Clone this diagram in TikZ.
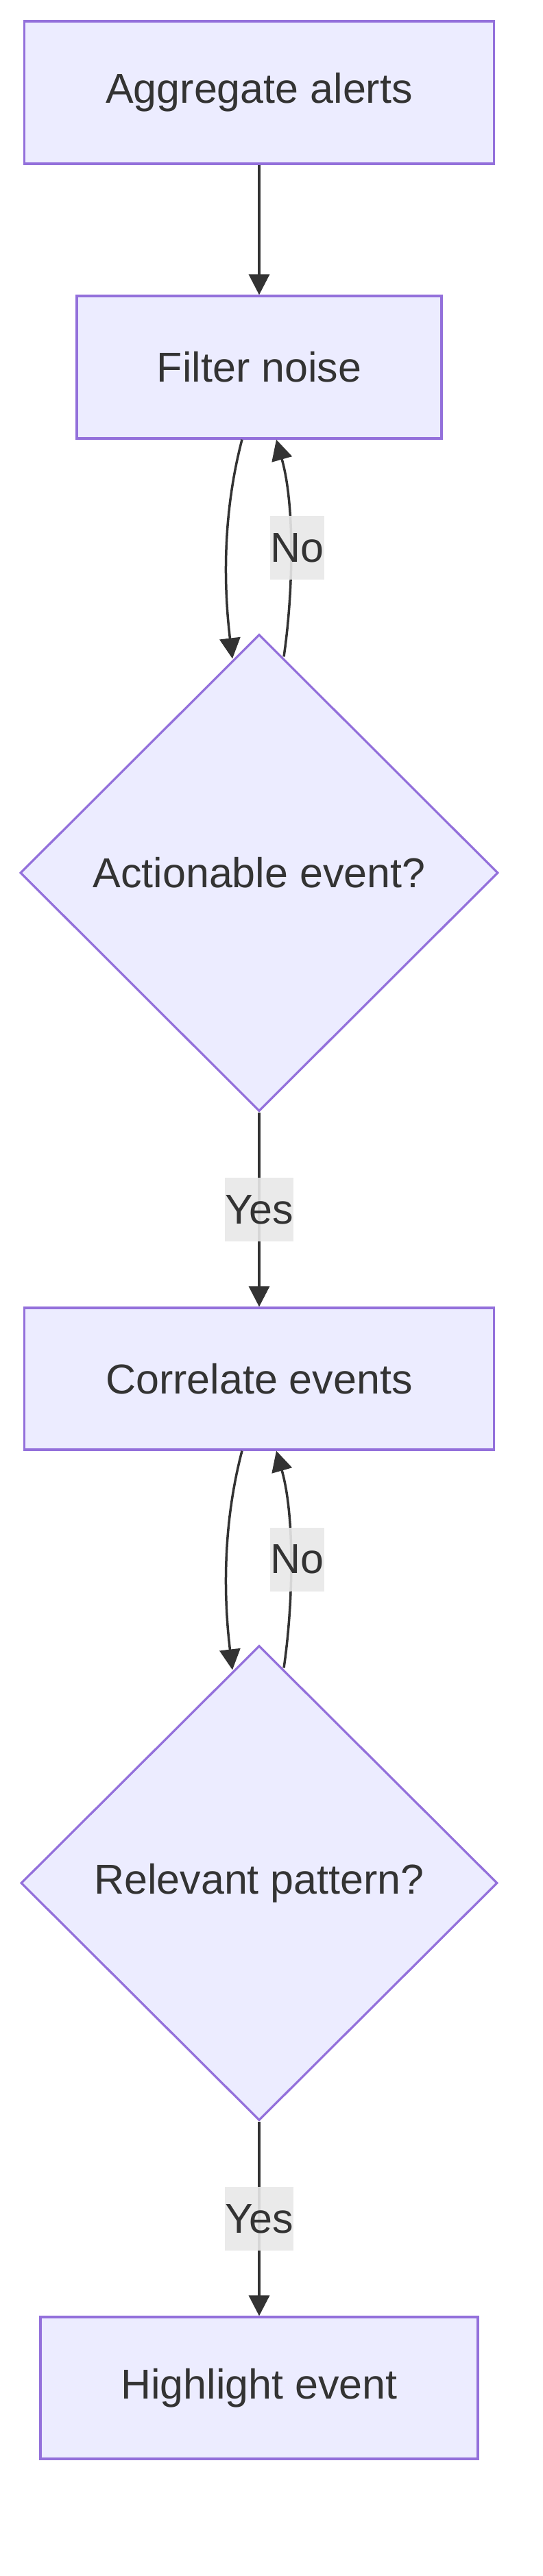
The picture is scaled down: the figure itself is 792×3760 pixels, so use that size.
\documentclass[tikz,border=0pt]{standalone}
\usepackage{fontspec}
\setmainfont{Liberation Sans}
\usetikzlibrary{shapes.geometric,arrows.meta}
\definecolor{nodefill}{HTML}{ECECFF}
\definecolor{nodeline}{HTML}{9370DB}
\definecolor{ink}{HTML}{333333}
\definecolor{lblbg}{HTML}{E8E8E8}
\tikzset{
  box/.style={draw=nodeline, fill=nodefill, line width=3.2pt, text=ink, inner sep=0pt, font=\fontsize{61pt}{73pt}\selectfont},
  decision/.style={diamond, draw=nodeline, fill=nodefill, line width=3.2pt, text=ink, inner sep=0pt, aspect=1, font=\fontsize{61pt}{73pt}\selectfont},
  edge/.style={draw=ink, line width=3.5pt, -{Triangle[length=30pt,width=30pt]}},
  lbl/.style={fill=lblbg, fill opacity=0.9, text opacity=1, text=ink, inner xsep=0.5pt, inner ysep=0pt, minimum height=93pt, font=\fontsize{61pt}{73pt}\selectfont}
}
\begin{document}
\begin{tikzpicture}[x=1pt,y=-1pt]
\path[use as bounding box, fill=white] (0,0) rectangle (792,3760);
% nodes
\node[box, minimum width=685pt, minimum height=208pt] (n1) at (378,135) {Aggregate alerts};
\node[box, minimum width=532pt, minimum height=208pt] (n2) at (378,536) {Filter noise};
\node[decision, minimum width=697pt, minimum height=696pt] (d1) at (378,1274) {Actionable event?};
\node[box, minimum width=685pt, minimum height=207pt] (n3) at (378,2012.5) {Correlate events};
\node[decision, minimum width=695pt, minimum height=693pt] (d2) at (378,2748.5) {Relevant pattern?};
\node[box, minimum width=638pt, minimum height=207pt] (n4) at (378,3485.5) {Highlight event};
% edges
\draw[edge] (n1.south) -- (n2.north);
\draw[edge] ([xshift=-25pt]n2.south) .. controls (322,760) and (328,870) .. ([xshift=-39pt,yshift=-37pt]d1.north);
\draw[edge] ([xshift=36pt,yshift=-34pt]d1.north) .. controls (427,870) and (431,740) .. ([xshift=25pt]n2.south);
\draw[edge] (d1.south) -- node[lbl] (y1) {Yes} (n3.north);
\draw[edge] ([xshift=-25pt]n3.south) .. controls (322,2236) and (328,2346) .. ([xshift=-39pt,yshift=-37pt]d2.north);
\draw[edge] ([xshift=36pt,yshift=-34pt]d2.north) .. controls (427,2346) and (431,2216) .. ([xshift=25pt]n3.south);
\draw[edge] (d2.south) -- node[lbl] (y2) {Yes} (n4.north);
% loop labels
\node[lbl] (no1) at (433.5,799.5) {No};
\node[lbl] (no2) at (433.5,2276) {No};
\end{tikzpicture}
\end{document}
